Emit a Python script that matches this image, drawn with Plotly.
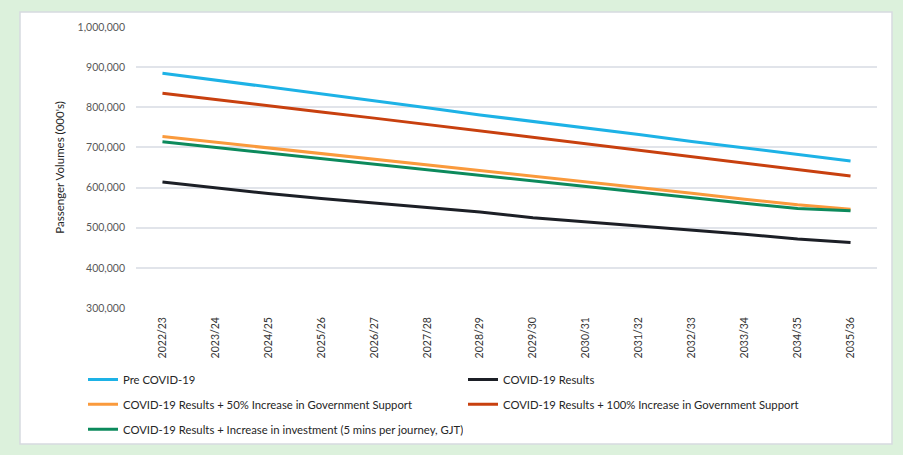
import plotly.graph_objects as go

# Financial years on the category axis
years = ["2022/23", "2023/24", "2024/25", "2025/26", "2026/27", "2027/28", "2028/29",
         "2029/30", "2030/31", "2031/32", "2032/33", "2033/34", "2034/35", "2035/36"]

# Passenger volumes (000's) for each scenario
pre_covid = [885000, 868000, 851000, 833000, 816000, 799000, 781000,
             765000, 748000, 732000, 715000, 699000, 682000, 666000]
covid_results = [614000, 599000, 585000, 573000, 562000, 550000, 539000,
                 525000, 515000, 505000, 494000, 484000, 472000, 463000]
gov_support_50 = [727000, 713000, 699000, 685000, 671000, 657000, 643000,
                  629000, 615000, 600000, 586000, 571000, 557000, 546000]
gov_support_100 = [835000, 819000, 804000, 788000, 773000, 757000, 741000,
                   726000, 710000, 694000, 678000, 662000, 645000, 629000]
investment = [714000, 700000, 686000, 672000, 659000, 645000, 631000,
              617000, 603000, 589000, 575000, 561000, 548000, 542000]

y_ticks = [300000, 400000, 500000, 600000, 700000, 800000, 900000, 1000000]

FONT = "Lato, 'Open Sans', sans-serif"

series = [
    ("Pre COVID-19", pre_covid, "#1DB2E6", "legend"),
    ("COVID-19 Results", covid_results, "#1C1F26", "legend"),
    ("COVID-19 Results + 50% Increase in Government Support", gov_support_50, "#FA9A3C", "legend2"),
    ("COVID-19 Results + 100% Increase in Government Support", gov_support_100, "#C8400F", "legend2"),
    ("COVID-19 Results + Increase in investment (5 mins per journey, GJT)", investment, "#0C8A5C", "legend3"),
]

fig = go.Figure()
for name, vals, color, leg in series:
    fig.add_trace(go.Scatter(
        x=years, y=vals, name=name, mode="lines",
        line=dict(color=color, width=3),
        legend=leg,
    ))

# Plot area in pixels
W, H = 903, 455
L, R, T, B = 136, 877, 27, 310
pw, ph = R - L, B - T

def px_x(x):
    return (x - L) / pw

def px_y(y):
    return (B - y) / ph

legend_common = dict(
    orientation="h", xanchor="left", yanchor="middle",
    x=px_x(83), entrywidth=335, entrywidthmode="pixels",
    font=dict(family=FONT, size=11.3, color="#262626"),
    bgcolor="rgba(0,0,0,0)", traceorder="normal",
)

fig.update_layout(
    width=W, height=H,
    margin=dict(l=L, r=W - R, t=T, b=H - B),
    paper_bgcolor="#DCF1DC",
    plot_bgcolor="white",
    showlegend=True,
    legend=dict(legend_common, y=px_y(382)),
    legend2=dict(legend_common, y=px_y(407)),
    legend3=dict(legend_common, y=px_y(432)),
    xaxis=dict(
        type="category", range=[-0.5, 13.5],
        tickangle=-90, showgrid=False, showline=False, zeroline=False,
        ticks="", ticklabelstandoff=6,
        tickfont=dict(family=FONT, size=10.5, color="#333333"),
    ),
    yaxis=dict(
        range=[300000, 1000000], tickvals=y_ticks, tickformat=",d",
        showgrid=True, gridcolor="#E1E4EA", gridwidth=1.5,
        zeroline=False, showline=False, ticks="", ticklabelstandoff=10,
        tickfont=dict(family=FONT, size=10.5, color="#595959"),
        title=dict(text="Passenger Volumes (000's)", standoff=10,
                   font=dict(family=FONT, size=11.5, color="#262626")),
    ),
    shapes=[dict(
        type="rect", xref="paper", yref="paper", layer="below",
        x0=px_x(20), x1=px_x(892), y0=px_y(447), y1=px_y(12),
        fillcolor="white", line=dict(color="#D6DAE0", width=1.5),
    )],
)

fig.write_html("out.html")
